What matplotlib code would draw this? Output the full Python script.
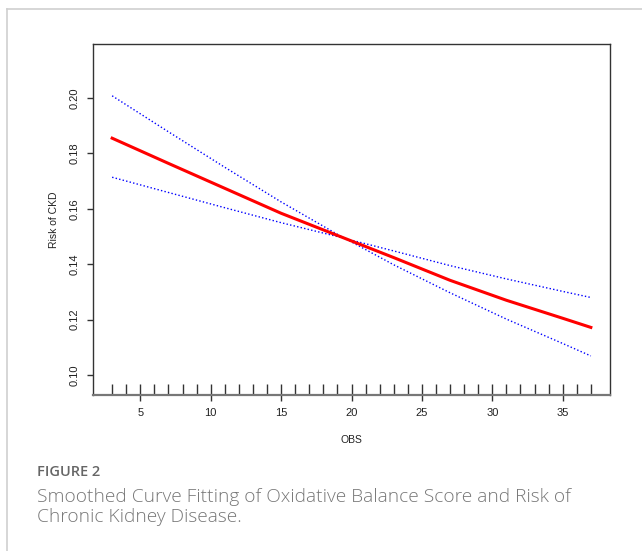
import numpy as np
import matplotlib
matplotlib.use("Agg")
import matplotlib.pyplot as plt
from matplotlib.lines import Line2D
import matplotlib.transforms as mtransforms

# values
obs = [3, 7, 11, 15, 19, 23, 27, 31, 35, 37]
risk_fit = [0.1855, 0.1764, 0.1674, 0.1584, 0.1504, 0.1424, 0.1342, 0.1270, 0.1205, 0.1172]
ci_steep = [0.2008, 0.1878, 0.1750, 0.1625, 0.1508, 0.1398, 0.1297, 0.1202, 0.1114, 0.1069]
ci_flat = [0.1714, 0.1659, 0.1604, 0.1550, 0.1500, 0.1448, 0.1395, 0.1347, 0.1302, 0.1280]
rug_obs = list(range(3, 38))
xticks = [5, 10, 15, 20, 25, 30, 35]
yticks = [0.10, 0.12, 0.14, 0.16, 0.18, 0.20]
ytick_labels = ["0.10", "0.12", "0.14", "0.16", "0.18", "0.20"]

W, H = 642, 551
fig = plt.figure(figsize=(W / 100, H / 100), dpi=100)
fig.patch.set_facecolor("white")

# light page frame (top and left edges)
fig.add_artist(Line2D([7 / W, 1.0], [1 - 9 / H, 1 - 9 / H], color="#cfcfcf", lw=1.2))
fig.add_artist(Line2D([7 / W, 7 / W], [1 - 9 / H, 0.0], color="#cfcfcf", lw=1.2))

ax = fig.add_axes([93 / W, 1 - 395 / H, 517 / W, 351 / H])

ax.plot(obs, ci_steep, color="blue", lw=1.0, ls=(0, (1, 1.6)))
ax.plot(obs, ci_flat, color="blue", lw=1.0, ls=(0, (1, 1.6)))
ax.plot(obs, risk_fit, color="red", lw=2.2)

ax.set_xlim(1.64, 38.36)
ax.set_ylim(0.0928, 0.2195)

# rug along the bottom
trans = mtransforms.blended_transform_factory(ax.transData, ax.transAxes)
ax.vlines(rug_obs, 0, 11 / 351, transform=trans, color="#333333", lw=1.0)

ax.set_xticks(xticks)
ax.set_xticklabels([str(t) for t in xticks])
ax.set_yticks(yticks)
ax.set_yticklabels(ytick_labels, rotation=90, va="center")

arial = ["Liberation Sans", "DejaVu Sans"]
for lab in ax.get_xticklabels() + ax.get_yticklabels():
    lab.set_fontfamily(arial)
    lab.set_fontsize(8)
    lab.set_color("#222222")

ax.tick_params(axis="both", length=4.3, width=1.0, color="#333333", pad=5.0)

for s in ["top", "right", "left"]:
    ax.spines[s].set_color("#333333")
    ax.spines[s].set_linewidth(1.0)
ax.spines["bottom"].set_color("#777777")
ax.spines["bottom"].set_linewidth(1.6)

ax.set_xlabel("OBS", family=arial, size=7.5, color="#222222", labelpad=12)
ax.set_ylabel("Risk of CKD", family=arial, size=7.5, color="#222222", labelpad=8)

# caption
fig.text(37 / W, 1 - 475.5 / H, "FIGURE 2", family=["Open Sans", "DejaVu Sans"],
         size=10.5, weight="semibold", color="#666666", va="baseline", ha="left")
fig.text(37 / W, 1 - 502 / H, "Smoothed Curve Fitting of Oxidative Balance Score and Risk of",
         family=["Open Sans", "DejaVu Sans"], weight="light", size=13.8, color="#777777",
         va="baseline", ha="left")
fig.text(37 / W, 1 - 522.5 / H, "Chronic Kidney Disease.",
         family=["Open Sans", "DejaVu Sans"], weight="light", size=13.8, color="#777777",
         va="baseline", ha="left")

fig.savefig("out.png", dpi=100)
